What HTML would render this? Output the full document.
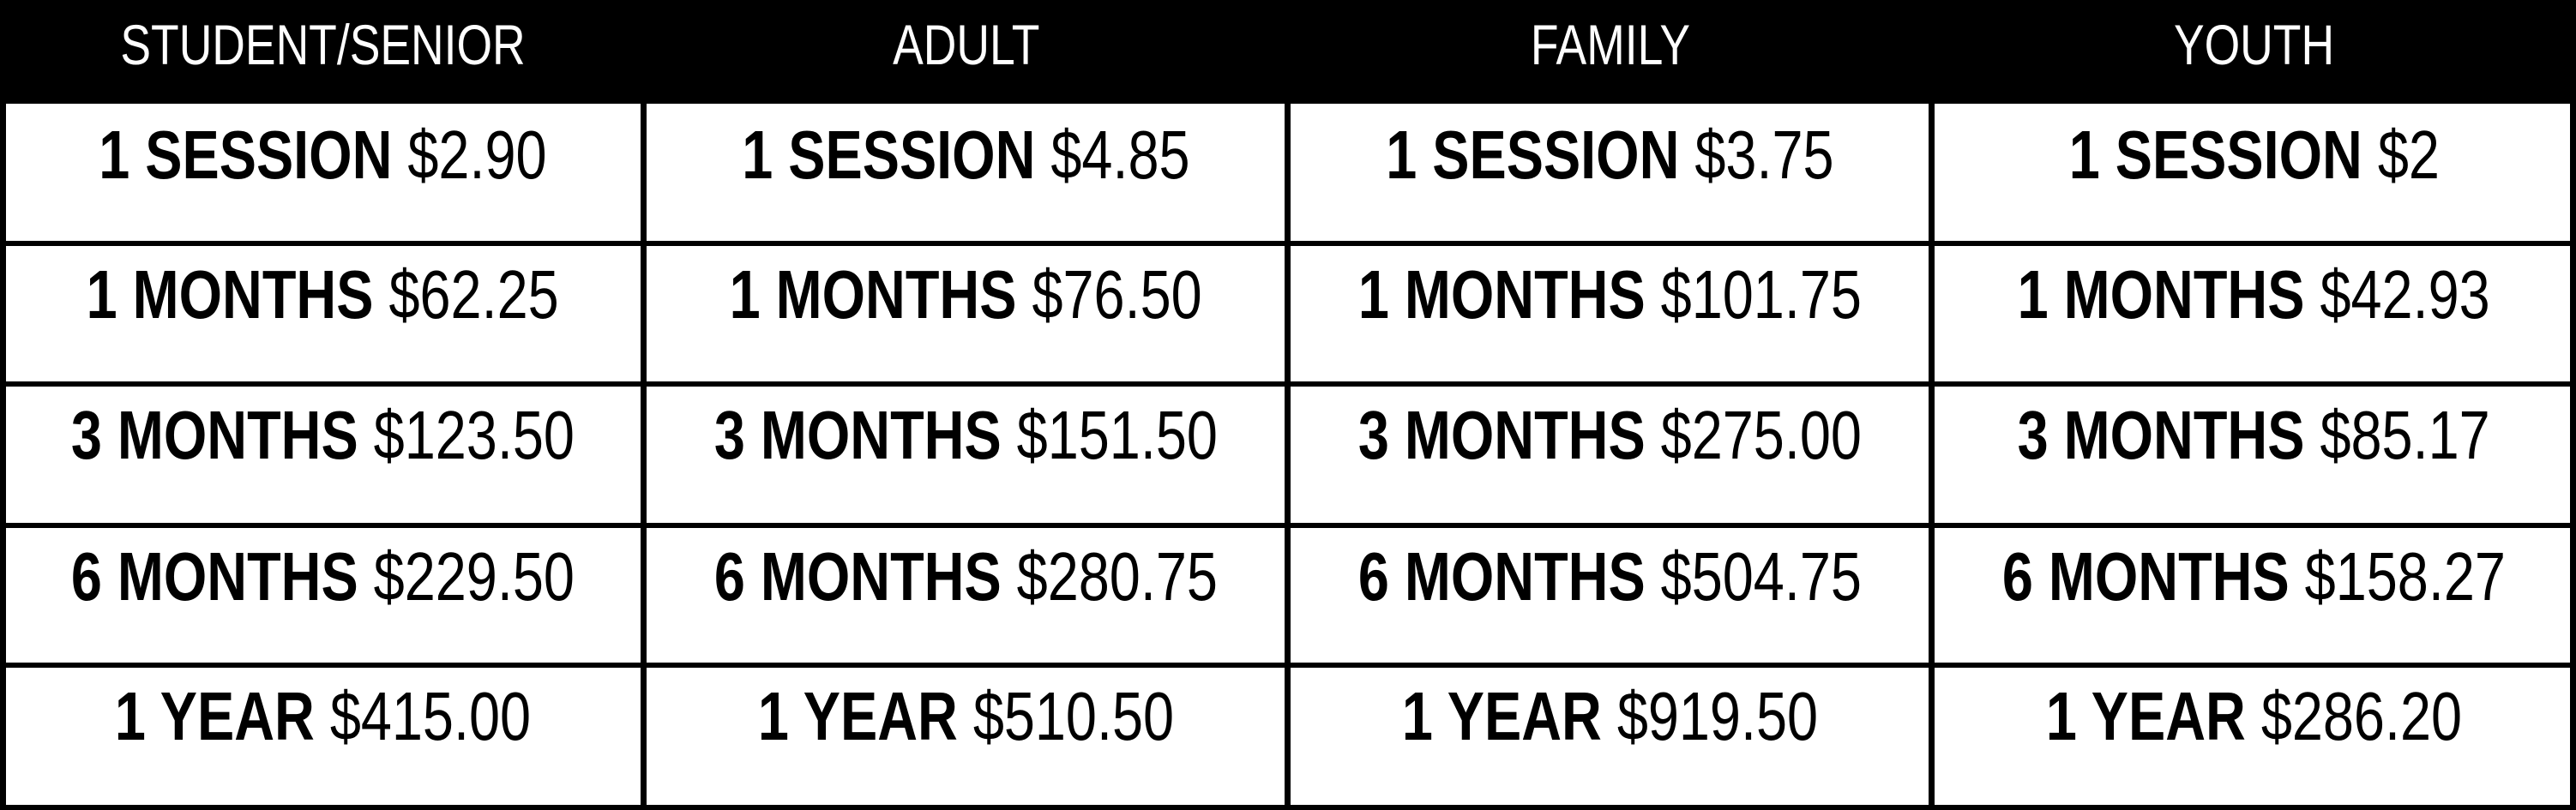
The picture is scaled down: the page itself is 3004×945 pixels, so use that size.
<!DOCTYPE html>
<html><head><meta charset="utf-8"><style>
html,body{margin:0;padding:0;background:#fff}
#t{position:relative;width:3004px;height:945px;overflow:hidden;background:#fff;font-family:"Liberation Sans Narrow","Liberation Sans",sans-serif}
.l{position:absolute;background:#000}
.c{position:absolute;width:751px;text-align:center;white-space:nowrap;line-height:1}
.c span.in{display:inline-block;transform:scaleX(0.81);transform-origin:center}
.h{color:#fff;font-size:66px}
.b{color:#000;font-size:80px}
.b strong{font-weight:bold}
</style></head><body>
<div id="t">
<div class="l" style="left:0;top:0;width:3004px;height:121px"></div>
</div>
<script>
const headers=["STUDENT/SENIOR","ADULT","FAMILY","YOUTH"];
const plans=["1 SESSION","1 MONTHS","3 MONTHS","6 MONTHS","1 YEAR"];
const prices=[["$2.90","$62.25","$123.50","$229.50","$415.00"],["$4.85","$76.50","$151.50","$280.75","$510.50"],["$3.75","$101.75","$275.00","$504.75","$919.50"],["$2","$42.93","$85.17","$158.27","$286.20"]];
const t=document.getElementById('t');
const colX=[0,750,1501,2252,3004];
const rowY=[121,284,448,613,776,942];
function line(x,y,w,h,n){const d=document.createElement('div');d.className='l';d.style.cssText=`left:${x}px;top:${y}px;width:${w}px;height:${h}px`;


t.appendChild(d);}
colX.forEach((x,i)=>line(Math.min(Math.max(x-3,0),2997),121,7,824,'column-divider'));
rowY.slice(1).forEach(y=>line(0,y-3,3004,6,'row-divider'));
headers.forEach((h,i)=>{const d=document.createElement('div');d.className='c h';d.style.left=(colX[i]+1)+'px';d.style.top='19px';d.innerHTML='<span class="in">'+h+'</span>';


t.appendChild(d);});
prices.forEach((col,i)=>col.forEach((p,j)=>{const d=document.createElement('div');d.className='c b';d.style.left=(colX[i]+1)+'px';d.style.top=(rowY[j]+20)+'px';d.innerHTML='<span class="in"><strong>'+plans[j]+'</strong> '+p+'</span>';


t.appendChild(d);}));
</script>
</body></html>
